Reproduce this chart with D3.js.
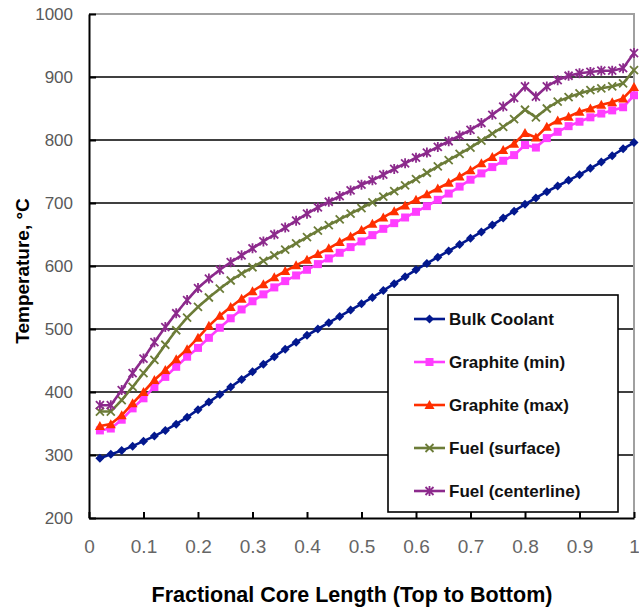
<!DOCTYPE html>
<html>
<head>
<meta charset="utf-8">
<script src="https://cdn.jsdelivr.net/npm/d3@7"></script>
<style>
  body { margin: 0; background: #fff; }
  text { font-family: "Liberation Sans", Arial, sans-serif; }
</style>
</head>
<body>
<svg></svg>
<script>
const svgWidth = 639;
const svgHeight = 610;

// fractional core length positions
const xValues = [0.02, 0.04, 0.06, 0.08, 0.10, 0.12, 0.14, 0.16, 0.18, 0.20,
    0.22, 0.24, 0.26, 0.28, 0.30, 0.32, 0.34, 0.36, 0.38, 0.40,
    0.42, 0.44, 0.46, 0.48, 0.50, 0.52, 0.54, 0.56, 0.58, 0.60,
    0.62, 0.64, 0.66, 0.68, 0.70, 0.72, 0.74, 0.76, 0.78, 0.80,
    0.82, 0.84, 0.86, 0.88, 0.90, 0.92, 0.94, 0.96, 0.98, 1.00];

const bulkCoolant = [295, 301, 307, 314, 322, 330, 339, 349, 360, 372,
    384, 396, 408, 420, 432, 444, 456, 468, 479, 490,
    500, 510, 520, 530, 540, 550, 561, 572, 583, 594,
    604, 614, 624, 634, 644, 654, 665, 676, 687, 698,
    708, 718, 727, 736, 745, 755, 765, 775, 786, 796];

const graphiteMin = [339, 342, 356, 374, 390, 408, 424, 440, 456, 470,
    486, 502, 517, 531, 544, 555, 566, 576, 585, 594,
    603, 612, 621, 630, 639, 649, 659, 668, 677, 686,
    695, 705, 715, 726, 737, 747, 757, 767, 776, 792,
    788, 803, 813, 822, 829, 836, 842, 847, 852, 871];

const graphiteMax = [346, 349, 363, 382, 400, 419, 435, 452, 468, 486,
    505, 521, 535, 548, 560, 571, 582, 592, 601, 610,
    619, 628, 638, 647, 657, 667, 677, 687, 696, 705,
    714, 723, 732, 742, 752, 763, 773, 784, 794, 811,
    804, 821, 831, 837, 845, 850, 856, 860, 866, 884];

const fuelSurface = [369, 369, 387, 408, 430, 451, 475, 498, 518, 535,
    550, 564, 577, 588, 598, 608, 617, 626, 636, 646,
    656, 665, 674, 683, 692, 701, 710, 719, 728, 738,
    748, 758, 768, 778, 788, 799, 810, 821, 833, 848,
    836, 850, 861, 868, 874, 879, 882, 885, 890, 911];

const fuelCenterline = [379, 379, 403, 430, 453, 479, 503, 525, 546, 565,
    580, 594, 606, 617, 628, 639, 650, 661, 672, 683,
    693, 702, 711, 720, 729, 736, 745, 754, 763, 772,
    780, 789, 798, 807, 816, 827, 840, 853, 867, 885,
    869, 885, 895, 902, 906, 908, 910, 910, 914, 938];

const seriesNames = ["Bulk Coolant", "Graphite (min)", "Graphite (max)", "Fuel (surface)", "Fuel (centerline)"];
const xTicks = [0, 0.1, 0.2, 0.3, 0.4, 0.5, 0.6, 0.7, 0.8, 0.9, 1];
const yTicks = [200, 300, 400, 500, 600, 700, 800, 900, 1000];

const series = [
    { name: seriesNames[0], values: bulkCoolant, color: "#03188e", marker: "diamond" },
    { name: seriesNames[1], values: graphiteMin, color: "#ff3dff", marker: "square" },
    { name: seriesNames[2], values: graphiteMax, color: "#ff2f00", marker: "triangle" },
    { name: seriesNames[3], values: fuelSurface, color: "#6c7c38", marker: "x" },
    { name: seriesNames[4], values: fuelCenterline, color: "#8c2a8c", marker: "star" }
];

const margin = { left: 89, right: 5, top: 14, bottom: 92 };

const svg = d3.select("svg")
    .attr("width", svgWidth)
    .attr("height", svgHeight);

const x = d3.scaleLinear().domain([0, 1]).range([margin.left, svgWidth - margin.right]);
const y = d3.scaleLinear().domain([200, 1000]).range([svgHeight - margin.bottom, margin.top]);

// gridlines
svg.append("g")
    .selectAll("line")
    .data(yTicks.filter(d => d > 200 && d < 1000))
    .enter().append("line")
    .attr("x1", x(0)).attr("x2", x(1))
    .attr("y1", d => y(d)).attr("y2", d => y(d))
    .attr("stroke", "#000").attr("stroke-width", 1.5);

// plot frame top/right in gray
svg.append("path")
    .attr("d", `M${x(0)},${y(1000)}H${x(1)}V${y(200)}`)
    .attr("fill", "none")
    .attr("stroke", "#a0a0a0")
    .attr("stroke-width", 2);

// axes
const xAxis = d3.axisBottom(x).tickValues(xTicks).tickSizeInner(-6).tickSizeOuter(0).tickFormat(d3.format(""));
const yAxis = d3.axisLeft(y).tickValues(yTicks).tickSizeInner(-7).tickSizeOuter(0).tickFormat(d3.format(""));

const gx = svg.append("g")
    .attr("transform", `translate(0,${y(200)})`)
    .call(xAxis);
gx.select(".domain").attr("stroke", "#000").attr("stroke-width", 2);
gx.selectAll(".tick line").attr("stroke", "#000").attr("stroke-width", 2);
gx.selectAll(".tick text")
    .attr("y", 22)
    .attr("dy", "0.71em")
    .style("font-family", "'Liberation Sans Narrow', 'Liberation Sans', Arial, sans-serif")
    .style("font-size", "19px")
    .attr("fill", "#666");

const gy = svg.append("g")
    .attr("transform", `translate(${x(0)},0)`)
    .call(yAxis);
gy.select(".domain").attr("stroke", "#000").attr("stroke-width", 2);
gy.selectAll(".tick line").attr("stroke", "#000").attr("stroke-width", 2);
gy.selectAll(".tick text")
    .attr("x", -16)
    .style("font-size", "17px")
    .attr("fill", "#595959");

// lines
const line = d3.line()
    .x((d, i) => x(xValues[i]))
    .y(d => y(d));

function drawMarker(g, type, color, cx, cy) {
    if (type === "diamond") {
        g.append("path")
            .attr("d", `M${cx},${cy - 4.5}L${cx + 4.5},${cy}L${cx},${cy + 4.5}L${cx - 4.5},${cy}Z`)
            .attr("fill", color);
    } else if (type === "square") {
        g.append("rect")
            .attr("x", cx - 4).attr("y", cy - 4)
            .attr("width", 8).attr("height", 8)
            .attr("fill", color);
    } else if (type === "triangle") {
        g.append("path")
            .attr("d", `M${cx},${cy - 5}L${cx + 5},${cy + 4}L${cx - 5},${cy + 4}Z`)
            .attr("fill", color);
    } else if (type === "x") {
        g.append("path")
            .attr("d", `M${cx - 4},${cy - 4}L${cx + 4},${cy + 4}M${cx - 4},${cy + 4}L${cx + 4},${cy - 4}`)
            .attr("stroke", color).attr("stroke-width", 1.8);
    } else if (type === "star") {
        g.append("path")
            .attr("d", `M${cx - 4},${cy - 4}L${cx + 4},${cy + 4}M${cx - 4},${cy + 4}L${cx + 4},${cy - 4}M${cx},${cy - 5}V${cy + 5}`)
            .attr("stroke", color).attr("stroke-width", 1.8);
    }
}

series.forEach(s => {
    const g = svg.append("g");
    g.append("path")
        .datum(s.values)
        .attr("d", line)
        .attr("fill", "none")
        .attr("stroke", s.color)
        .attr("stroke-width", 2.6);
    s.values.forEach((v, i) => drawMarker(g, s.marker, s.color, x(xValues[i]), y(v)));
});

// legend
const legend = svg.append("g");
legend.append("rect")
    .attr("x", 388).attr("y", 295)
    .attr("width", 230).attr("height", 217)
    .attr("fill", "#fff")
    .attr("stroke", "#000")
    .attr("stroke-width", 1.6);

const legendY = [319, 362, 405, 448, 491];
series.forEach((s, i) => {
    const ly = legendY[i];
    legend.append("line")
        .attr("x1", 414).attr("x2", 445)
        .attr("y1", ly).attr("y2", ly)
        .attr("stroke", s.color).attr("stroke-width", 2.6);
    drawMarker(legend, s.marker, s.color, 429.5, ly);
    legend.append("text")
        .attr("x", 449).attr("y", ly)
        .attr("dy", "0.35em")
        .style("font-size", "17px")
        .style("font-weight", "bold")
        .attr("fill", "#111")
        .text(s.name);
});

// axis titles
svg.append("text")
    .attr("x", 352).attr("y", 602)
    .attr("text-anchor", "middle")
    .style("font-size", "21.5px")
    .style("font-weight", "bold")
    .text("Fractional Core Length (Top to Bottom)");

svg.append("text")
    .attr("transform", "translate(29,271) rotate(-90)")
    .attr("text-anchor", "middle")
    .style("font-size", "19px")
    .style("font-weight", "bold")
    .text("Temperature, \u00B0C");
</script>
</body>
</html>
